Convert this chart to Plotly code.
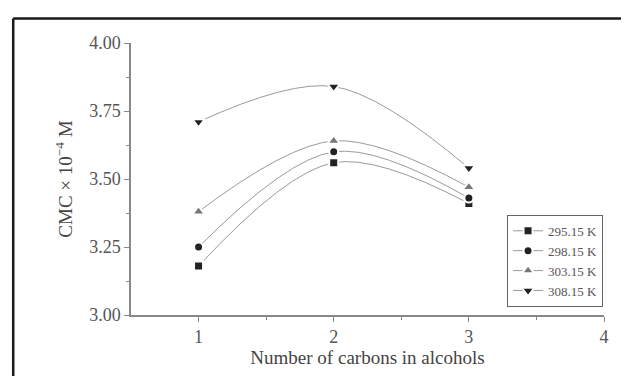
import plotly.graph_objects as go

carbons = [1, 2, 3]
series_names = ["295.15 K", "298.15 K", "303.15 K", "308.15 K"]
cmc_295 = [3.18, 3.56, 3.41]
cmc_298 = [3.25, 3.60, 3.43]
cmc_303 = [3.38, 3.64, 3.47]
cmc_308 = [3.71, 3.84, 3.54]
y_ticks = [3.00, 3.25, 3.50, 3.75, 4.00]
x_ticks = [1, 2, 3, 4]

series_values = [cmc_295, cmc_298, cmc_303, cmc_308]
symbols = ["square", "circle", "triangle-up", "triangle-down"]
sizes = [9, 9, 11, 11]
colors = ["#222222", "#222222", "#777777", "#222222"]

fig = go.Figure()
for name, vals, sym, sz, col in zip(series_names, series_values, symbols, sizes, colors):
    fig.add_trace(go.Scatter(
        x=carbons, y=vals, name=name, mode="lines+markers",
        line=dict(shape="spline", smoothing=1.0, color="#9a9a9a", width=1),
        marker=dict(symbol=sym, size=sz, color=col, line=dict(color="white", width=2)),
    ))

serif = "Liberation Serif, Times New Roman, serif"
fig.update_layout(
    width=621, height=368,
    margin=dict(l=123, r=25, t=35, b=61),
    paper_bgcolor="white", plot_bgcolor="white",
    font=dict(family=serif, color="#555555", size=18),
    showlegend=True,
    legend=dict(x=0.998, xanchor="right", y=0.03, yanchor="bottom",
                bordercolor="#666666", borderwidth=1, bgcolor="white",
                font=dict(family=serif, size=13, color="#555555"),
                tracegroupgap=0, itemwidth=30),
    xaxis=dict(range=[0.5, 4.0], tickvals=x_ticks, ticks="outside", ticklen=5,
               showline=True, linecolor="#888888", linewidth=1.5, tickcolor="#888888",
               showgrid=False, zeroline=False,
               minor=dict(tickvals=[1.5, 2.5, 3.5], ticks="outside", ticklen=3, tickcolor="#888888"),
               title=dict(text="Number of carbons in alcohols", font=dict(size=19, color="#444444"), standoff=4)),
    yaxis=dict(range=[3.0, 4.0], tickvals=y_ticks, tickformat=".2f", ticks="outside", ticklen=5,
               showline=True, linecolor="#888888", linewidth=1.5, tickcolor="#888888",
               showgrid=False, zeroline=False,
               minor=dict(tickvals=[3.125, 3.375, 3.625, 3.875], ticks="outside", ticklen=3, tickcolor="#888888"),
               title=dict(text="CMC × 10<sup>−4</sup> M", font=dict(size=19, color="#444444"), standoff=12)),
    shapes=[
        dict(type="line", xref="paper", yref="paper", x0=-0.249, x1=1.06, y0=1.090, y1=1.090,
             line=dict(color="#1a1a1a", width=2.5)),
        dict(type="line", xref="paper", yref="paper", x0=-0.249, x1=-0.249, y0=1.090, y1=-0.25,
             line=dict(color="#1a1a1a", width=2.5)),
    ],
)

fig.write_html("out.html")
